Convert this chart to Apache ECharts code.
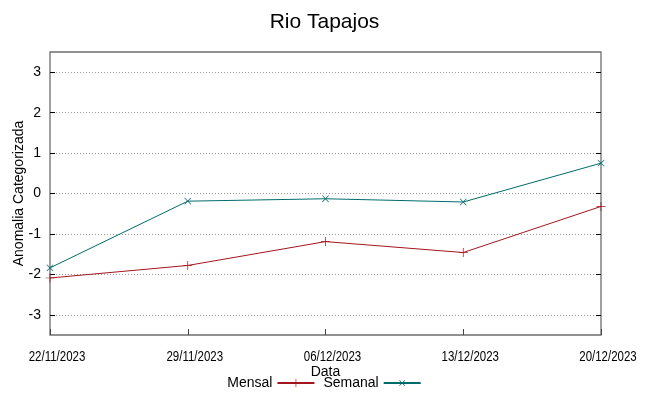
<!DOCTYPE html>
<html><head><meta charset="utf-8">
<script src="https://cdn.jsdelivr.net/npm/echarts@6/dist/echarts.min.js"></script>
<style>html,body{margin:0;padding:0;background:#fff}#c{width:649px;height:396px}</style>
</head><body><div id="c"></div>
<script>
const categories = ['22/11/2023','29/11/2023','06/12/2023','13/12/2023','20/12/2023'];
const mensal = [-2.09, -1.78, -1.19, -1.46, -0.32];
const semanal = [-1.84, -0.19, -0.13, -0.21, 0.75];
const yTicks = [-3,-2,-1,0,1,2,3];

const plusPath = 'path://M0,4.6 L10,4.6 L10,5.4 L0,5.4 Z M4.6,0 L5.4,0 L5.4,10 L4.6,10 Z';
const chart = echarts.init(document.getElementById('c'));
const font = 'Liberation Sans, Arial, sans-serif';
chart.setOption({
  animation: false,
  title: {text: 'Rio Tapajos', left: 'center', top: 7, textStyle: {fontFamily: font, fontSize: 21, fontWeight: 'normal', color: '#000'}},
  grid: {left: 50, right: 48, top: 52, bottom: 61, containLabel: false, outerBoundsMode: 'none',
    show: true, borderColor: '#6e6e6e', borderWidth: 1.3, backgroundColor: 'transparent'},
  legend: {
    bottom: 1, left: 'center', align: 'right', itemWidth: 37, itemHeight: 10, itemGap: 8,
    textStyle: {fontFamily: font, fontSize: 14, color: '#000'},
    data: ['Mensal', 'Semanal']
  },
  xAxis: {
    type: 'category', data: categories, boundaryGap: false,
    name: 'Data', nameLocation: 'middle', nameGap: 30, nameMoveOverlap: false,
    nameTextStyle: {fontFamily: font, fontSize: 14, color: '#000'},
    axisLine: {show: false, onZero: false},
    axisTick: {show: true, inside: true, length: 6, lineStyle: {color: '#444'}},
    axisLabel: {show: false},
    splitLine: {show: false}
  },
  yAxis: [{
    type: 'value', min: -3.5, max: 3.5,
    name: 'Anomalia Categorizada', nameLocation: 'middle', nameGap: 24, nameMoveOverlap: false,
    nameTextStyle: {fontFamily: font, fontSize: 14, color: '#000'},
    axisLine: {show: false, onZero: false},
    axisTick: {show: true, inside: true, length: 5, lineStyle: {color: '#000'}, customValues: yTicks},
    axisLabel: {fontFamily: font, fontSize: 14, color: '#000', margin: 9, customValues: yTicks},
    splitLine: {show: true, lineStyle: {color: '#999', type: [1, 2], width: 1}}
  }, {
    type: 'value', min: -3.5, max: 3.5, position: 'right',
    axisLine: {show: false, onZero: false},
    axisTick: {show: true, inside: true, length: 5, lineStyle: {color: '#000'}, customValues: yTicks},
    axisLabel: {show: false, customValues: yTicks},
    splitLine: {show: false}
  }],
  series: [{
    name: 'Mensal', type: 'line', data: mensal,
    symbol: plusPath, symbolSize: 9, showAllSymbol: true,
    lineStyle: {color: '#a3161d', width: 1},
    itemStyle: {color: '#a3161d'}
  }, {
    name: 'Semanal', type: 'line', data: semanal,
    symbol: plusPath, symbolSize: 9, symbolRotate: 45, showAllSymbol: true,
    lineStyle: {color: '#006b6b', width: 1},
    itemStyle: {color: '#006b6b'}
  }]
});
// x tick labels in a condensed look, placed from the axis scale
const labelEls = categories.map((c, i) => {
  const px = chart.convertToPixel({xAxisIndex: 0}, i);
  return {
    type: 'text', x: px + 7, y: 357, scaleX: 0.82, silent: true,
    style: {text: c, fontFamily: font, fontSize: 14, fill: '#000', align: 'center', verticalAlign: 'middle'}
  };
});
chart.setOption({graphic: labelEls});
</script></body></html>
